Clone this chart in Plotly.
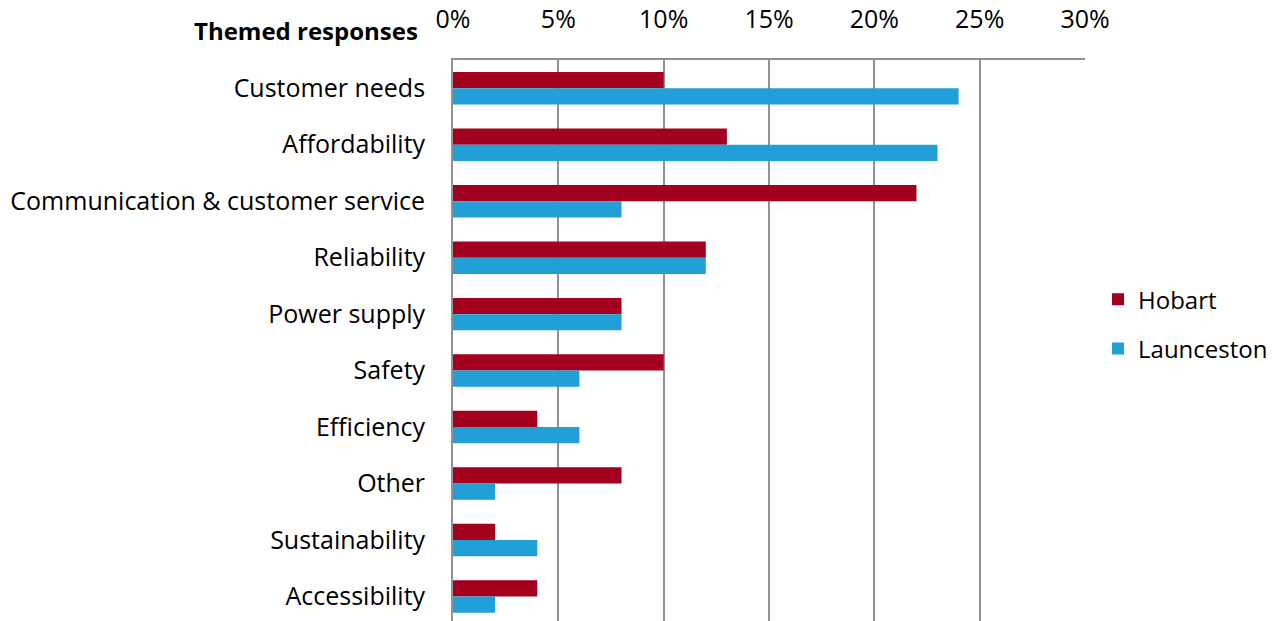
import plotly.graph_objects as go

# Themed responses by city (share of responses)
categories = [
    "Customer needs",
    "Affordability",
    "Communication & customer service",
    "Reliability",
    "Power supply",
    "Safety",
    "Efficiency",
    "Other",
    "Sustainability",
    "Accessibility",
]
hobart = [0.10, 0.13, 0.22, 0.12, 0.08, 0.10, 0.04, 0.08, 0.02, 0.04]
launceston = [0.24, 0.23, 0.08, 0.12, 0.08, 0.06, 0.06, 0.02, 0.04, 0.02]
x_ticks = [0, 0.05, 0.10, 0.15, 0.20, 0.25, 0.30]
x_tick_labels = ["0%", "5%", "10%", "15%", "20%", "25%", "30%"]

FONT = "Open Sans"
SIZE = 25
GRID = "#929292"

fig = go.Figure()
fig.add_trace(go.Bar(
    y=categories, x=hobart, name="Hobart", orientation="h",
    marker=dict(color="#A3001F", line=dict(width=0)),
    legendgroup="h",
))
fig.add_trace(go.Bar(
    y=categories, x=launceston, name="Launceston", orientation="h",
    marker=dict(color="#229FD7", line=dict(width=0)),
    legendgroup="l",
))

fig.update_layout(
    width=1275, height=621,
    margin=dict(l=453, r=190, t=60, b=0, pad=0),
    paper_bgcolor="white", plot_bgcolor="white",
    barmode="group", bargap=0.425, bargroupgap=0,
    font=dict(family=FONT, size=SIZE, color="#000000"),
    showlegend=True,
    legend=dict(
        x=1.0206, xanchor="left", y=0.529, yanchor="middle",
        traceorder="grouped", tracegroupgap=15,
        font=dict(family=FONT, size=SIZE - 1, color="#000000"),
        bgcolor="rgba(0,0,0,0)",
    ),
    xaxis=dict(
        side="top", range=[0, 0.30],
        tickvals=x_ticks, ticktext=x_tick_labels,
        tickfont=dict(family=FONT, size=SIZE, color="#000000"),
        showgrid=True, gridcolor=GRID, gridwidth=1.8,
        showline=True, linecolor=GRID, linewidth=1.8, mirror=False,
        ticks="", ticklabelstandoff=20,
        zeroline=False, fixedrange=True,
    ),
    yaxis=dict(
        type="category", range=[9.434, -0.5],
        tickfont=dict(family=FONT, size=SIZE, color="#000000"),
        showgrid=False, showline=True, linecolor=GRID, linewidth=1.8,
        ticks="", ticklabelstandoff=21, zeroline=False,
    ),
    annotations=[dict(
        text="<b>Themed responses</b>",
        xref="paper", yref="paper",
        x=-0.052, y=1 + 30 / 561, xanchor="right", yanchor="middle",
        showarrow=False, font=dict(family=FONT, size=SIZE - 1, color="#000000"),
    )],
)

fig.write_html("out.html")
